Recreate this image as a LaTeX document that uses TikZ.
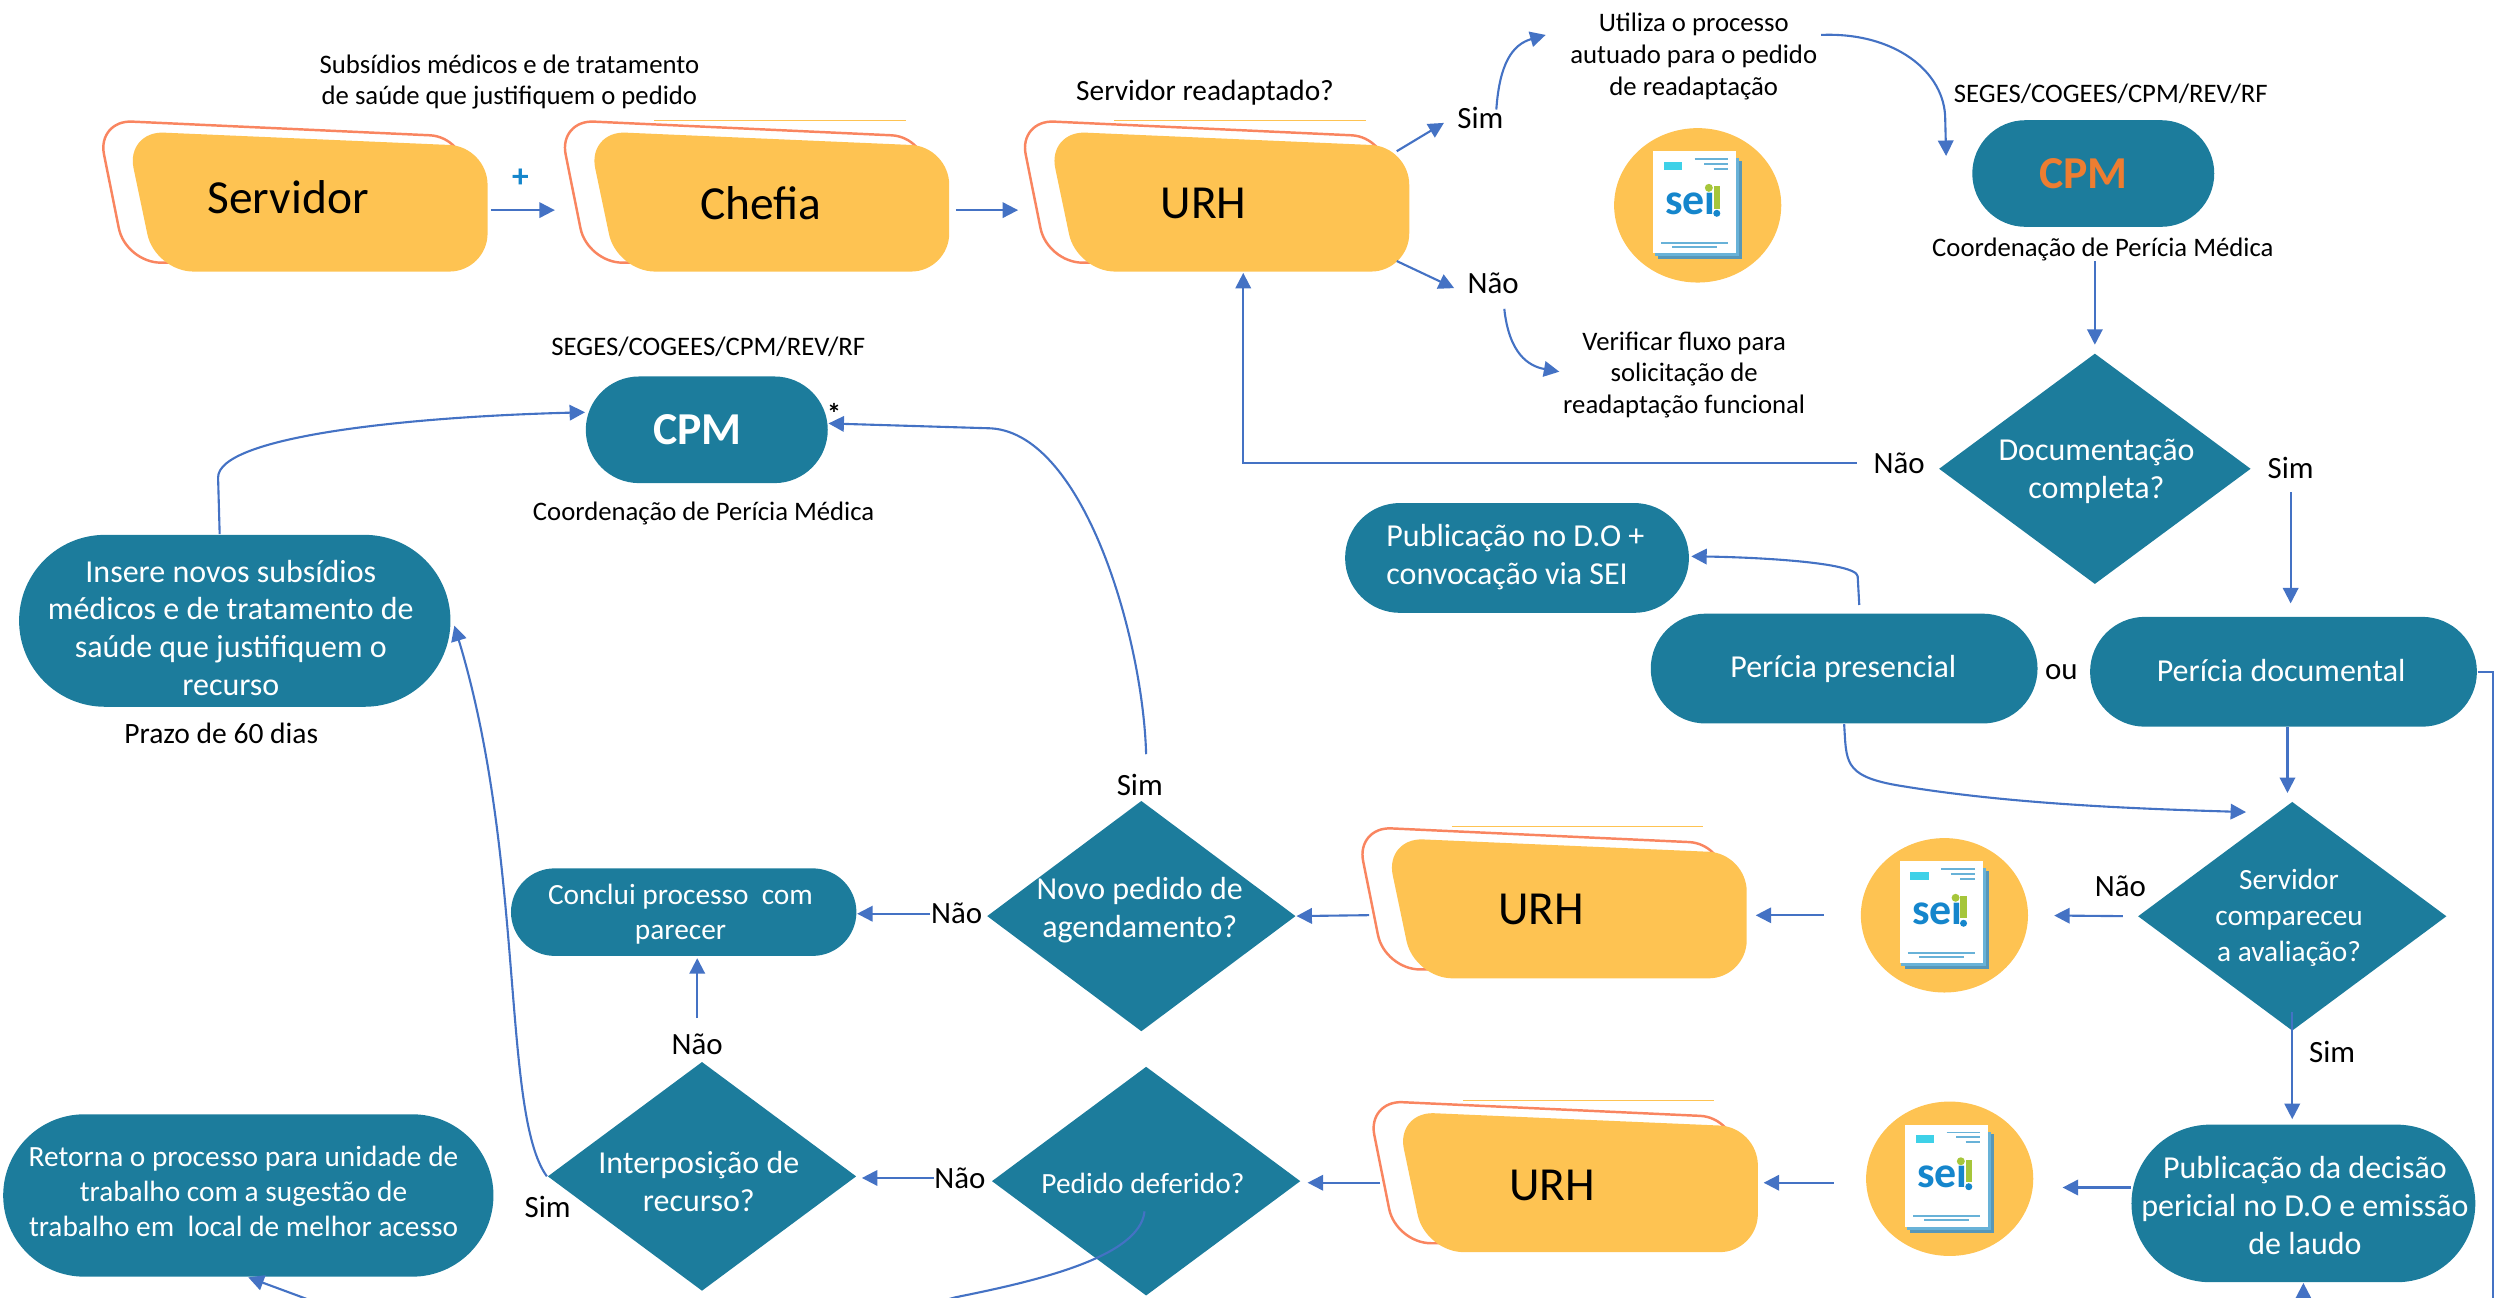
\documentclass[tikz,border=0pt]{standalone}
\usepackage{fontspec}
\setmainfont{Carlito}
\usetikzlibrary{arrows.meta,shapes.geometric,shapes.misc}
\definecolor{tealbox}{HTML}{1C7C9C}
\definecolor{cardyellow}{HTML}{FEC352}
\definecolor{cardorange}{HTML}{F98560}
\definecolor{flowblue}{HTML}{4472C4}
\definecolor{seiblue}{HTML}{1586CC}
\definecolor{seigreen}{HTML}{A6C63A}
\definecolor{seipaper}{HTML}{68B2D8}
\definecolor{cpmorange}{HTML}{ED7D31}
\def\un{0.159184mm}
\tikzset{
  flow/.style={draw=flowblue,line width=0.6pt,-{Triangle[length=4.4pt,width=4.4pt]}},
  tealstadium/.style={rounded rectangle,fill=tealbox,inner sep=0pt},
  tealdiamond/.style={diamond,aspect=1.34,fill=tealbox,inner sep=0pt},
  tealtext/.style={text=white,inner sep=0pt,align=center,font=\fontsize{9.1}{10.8}\selectfont},
  tealsmall/.style={text=white,inner sep=0pt,align=center,font=\fontsize{8.35}{9.9}\selectfont},
  note/.style={inner sep=0pt,align=center,font=\fontsize{7.6}{9}\selectfont},
  answer/.style={inner sep=0pt,font=\fontsize{8.8}{10}\selectfont},
  cardspot/.style={inner sep=0pt,minimum width=243*\un,minimum height=78*\un},
  cardtext/.style={inner sep=0pt,font=\fontsize{13.5}{15}\selectfont},
  cardshape/.pic={
    \draw[cardorange,line width=0.7pt,fill=white,rounded corners=22*\un] (61,75.4) -- (292,86) -- (292,165) -- (79,165) -- cycle;
    \fill[cardyellow,rounded corners=24*\un] (79,82.3) -- (306.3,92.1) -- (306.3,170.6) -- (97.5,170.6) -- cycle;
  },
  seiicon/.pic={
    \node[ellipse,fill=cardyellow,inner sep=0pt,minimum width=105*\un,minimum height=97*\un] (-disc) at (0,0) {};
    \fill[seipaper!85!black] (-25,-28) rectangle (28,34);
    \fill[seipaper] (-27,-29.5) rectangle (26,32);
    \fill[white] (-28,-34) rectangle (24,30);
    \fill[seipaper!60!cyan] (-21.4,-27.5) rectangle (-10,-22.2);
    \draw[seipaper,line width=0.5pt] (-2,-29) -- (19,-29) (4,-26) -- (19,-26) (10,-23) -- (19,-23) (-23,23.5) -- (19,23.5) (-16,26) -- (12,26);
    \node[inner sep=0pt,text=seiblue,font=\fontsize{12.5}{12}\bfseries\selectfont] (-word) at (-4.5,-1) {seı};
    \fill[seigreen] (7,-11) circle (2.5);
    \fill[seigreen] (10,-12) rectangle (14,2);
    \fill[seiblue] (12,5) circle (2.2);
  }
}
\begin{document}
\begin{tikzpicture}[x=\un,y=-\un]
\useasboundingbox (0,0) rectangle (1568,815.375);
\clip (0,0) rectangle (1568,815.375);
\foreach \dx/\dy in {0/0,290/0,579/0,791/444,798/616} \pic at (\dx,\dy) {cardshape};
\foreach \dx/\dy in {290/0,579/0,791/444,798/616} \draw[cardyellow,line width=0.3pt] (121+\dx,75.5+\dy) -- (279+\dx,75.5+\dy);
\node[cardspot] (servidor) at (184.5,132) {};
\node[cardspot] (chefia) at (474.5,132) {};
\node[cardspot] (urha) at (763.5,132) {};
\node[cardspot] (urhb) at (975,575) {};
\node[cardspot] (urhc) at (982,743) {};
\node[cardtext] (servidortext) at (181,124) {Servidor};
\node[cardtext] (chefiatext) at (478,127.5) {Chefia};
\node[cardtext] (urhatext) at (756,127.5) {URH};
\node[cardtext] (urhbtext) at (968,571.5) {URH};
\node[cardtext] (urhctext) at (975,744.5) {URH};
\pic (seia) at (1066.5,129) {seiicon};
\pic (seib) at (1221.5,575) {seiicon};
\pic (seic) at (1224.8,740.5) {seiicon};
\node[tealstadium,minimum width=152*\un,minimum height=67*\un] (cpma) at (1315,109) {};
\node[inner sep=0pt,text=cpmorange,font=\fontsize{13}{15}\bfseries\selectfont] (cpmatext) at (1309,109) {CPM};
\node[tealstadium,minimum width=152*\un,minimum height=67*\un] (cpmb) at (444,270) {};
\node[inner sep=0pt,text=white,font=\fontsize{13}{15}\bfseries\selectfont] (cpmbtext) at (438,270) {CPM};
\node[tealstadium,minimum width=216*\un,minimum height=69*\un] (pubd) at (953,350.5) {};
\node[tealtext,align=left] (pubdtext) at (952,350) {Publicação no D.O +\\convocação via SEI};
\node[tealstadium,minimum width=243*\un,minimum height=69*\un] (perp) at (1158.5,420) {};
\node[tealtext] (perptext) at (1158,420) {Perícia presencial};
\node[tealstadium,minimum width=243*\un,minimum height=69*\un] (perd) at (1434.5,422) {};
\node[tealtext] (perdtext) at (1433,421.5) {Perícia documental};
\node[tealstadium,minimum width=217*\un,minimum height=55*\un] (conclui) at (429.5,573) {};
\node[tealsmall] (concluitext) at (427.5,574.5) {Conclui processo\ \ com\\parecer};
\node[tealstadium,minimum width=271*\un,minimum height=108*\un] (insere) at (147.5,390) {};
\node[tealtext] (inseretext) at (145,394.5) {Insere novos subsídios\\médicos e de tratamento de\\saúde que justifiquem o\\recurso};
\node[tealstadium,minimum width=308*\un,minimum height=102*\un] (retorna) at (156,751) {};
\node[tealsmall] (retornatext) at (153,748.5) {Retorna o processo para unidade de\\trabalho com a sugestão de\\trabalho em\ \ local de melhor acesso};
\node[tealstadium,minimum width=216*\un,minimum height=99*\un] (pubdec) at (1447,756) {};
\node[tealtext] (pubdectext) at (1448,757.5) {Publicação da decisão\\pericial no D.O e emissão\\de laudo};
\node[tealdiamond,minimum width=196*\un,minimum height=145*\un] (docdec) at (1316,294.5) {};
\node[tealtext] (docdectext) at (1317,296) {Documentação\\completa?};
\node[tealdiamond,minimum width=194*\un,minimum height=144*\un] (servcomp) at (1440,575.6) {};
\node[tealsmall,font=\fontsize{8.35}{10.2}\selectfont] (servcomptext) at (1438,576.5) {Servidor\\compareceu\\a avaliação?};
\node[tealdiamond,minimum width=194*\un,minimum height=145*\un] (novoped) at (717,575.5) {};
\node[tealtext] (novopedtext) at (716,572) {Novo pedido de\\agendamento?};
\node[tealdiamond,minimum width=194*\un,minimum height=144*\un] (interp) at (441,739) {};
\node[tealtext] (interptext) at (439,742.5) {Interposição de\\recurso?};
\node[tealdiamond,minimum width=194*\un,minimum height=144*\un] (pedido) at (720,742) {};
\node[tealsmall] (pedidotext) at (718,743.5) {Pedido deferido?};
\node[note] (subsidios) at (320,51.5) {Subsídios médicos e de tratamento\\de saúde que justifiquem o pedido};
\node[note,font=\fontsize{8.35}{9}\selectfont] (readapt) at (757,58) {Servidor readaptado?};
\node[note] (utiliza) at (1064,35.5) {Utiliza o processo\\autuado para o pedido\\de readaptação};
\node[note] (verif) at (1058,235.5) {Verificar fluxo para\\solicitação de\\readaptação funcional};
\node[note] (segesa) at (1326,59) {SEGES/COGEES/CPM/REV/RF};
\node[note] (segesb) at (445,218) {SEGES/COGEES/CPM/REV/RF};
\node[note] (coorda) at (1321,156.5) {Coordenação de Perícia Médica};
\node[note] (coordb) at (442,322.5) {Coordenação de Perícia Médica};
\node[note,font=\fontsize{8.4}{9}\selectfont] (prazo) at (139,460.5) {Prazo de 60 dias};
\node[inner sep=0pt,text=seiblue,font=\fontsize{9.5}{10}\bfseries\selectfont] (plus) at (327,112) {+};
\node[inner sep=0pt,font=\fontsize{8}{9}\bfseries\selectfont] (star) at (524,260) {*};
\foreach \nm/\px/\py/\tx in {sima/930/74/Sim,naoa/938/178/Não,naob/1193/291/Não,simb/1439/294/Sim,ou/1295/422/ou,naoc/1332/557/Não,simc/1465/661/Sim,simd/716/493/Sim,naod/601/574/Não,naoe/603/740/Não,naof/438/656/Não,sime/344/758/Sim}
  \node[answer] (\nm) at (\px,\py) {\tx};
\draw[flow,shorten <=2*\un,shorten >=4*\un] (servidor.east) -- (chefia.west);
\draw[flow,shorten <=4*\un,shorten >=2*\un] (chefia.east) -- (urha.west);
\draw[flow] ([shift={(-8,-37)}]urha.east) -- ([shift={(-8,-4)}]sima.south west);
\draw[flow] ([shift={(-8,32)}]urha.east) -- ([shift={(-8,3)}]naoa.west);
\draw[flow] ([shift={(10,2)}]sima.north) .. controls (942,40) and (950,28) .. ([shift={(-15,14)}]utiliza.north west);
\draw[flow] ([shift={(7,9)}]naoa.south) .. controls (948,222) and (960,230) .. ([shift={(-2,-2)}]verif.west);
\draw[flow] ([shift={(2,14)}]utiliza.north east) .. controls (1190,20) and (1222,45) .. (1222,75) -- ([shift={(-16,-11)}]cpma.west);
\draw[flow,shorten >=5*\un] (docdec.north |- coorda.south) -- (docdec.north);
\draw[flow] ([xshift=-10*\un]naob.west) -| ([xshift=17.5*\un]urha.south);
\draw[flow,shorten <=8*\un,shorten >=8*\un] (simb.south) -- (simb.south |- perd.north);
\draw[flow,shorten >=5*\un] ([xshift=-3*\un]servcomp.north |- perd.south) -- ([xshift=-3*\un]servcomp.north);
\draw[flow] ([shift={(9.5,-5)}]perp.north) -- (1167,362) .. controls (1166,353) and (1100,350) .. ([shift={(1,-1)}]pubd.east);
\draw[flow] (perp.south) .. controls (1160,478) and (1158,487) .. (1190,493) .. controls (1260,505) and (1340,508) .. ([shift={(-29,7)}]servcomp.north);
\coordinate (outa) at (1566,830);
\draw[flow] (perd.east) -| (outa) -| (pubdec.south);
\draw[flow,shorten <=9*\un,shorten >=16*\un] (servcomp.west) -- (seib-disc.east);
\draw[flow,shorten <=-12*\un,shorten >=3*\un] (servcomp.south) -- (servcomp.south |- pubdec.north);
\draw[flow,shorten <=23*\un,shorten >=6*\un] (seib-disc.west) -- (urhb.east);
\draw[flow,shorten <=-7*\un] (urhb.west) -- (novoped.east);
\draw[flow] (naod.west) -- (naod.west -| conclui.east);
\draw[flow,shorten >=3*\un] (naoe.west) -- (naoe.west -| interp.east);
\draw[flow,shorten <=2*\un,shorten >=1*\un] (naof.south |- interp.north) ++(0,-25) -- (naof.south |- conclui.south);
\draw[flow,shorten <=20*\un,shorten >=4*\un] (seic-disc.west |- urhc.east) -- (urhc.east);
\draw[flow,shorten <=-7*\un,shorten >=4*\un] (urhc.west) -- (pedido.east |- urhc.west);
\draw[flow,shorten >=18*\un] ([yshift=10*\un]pubdec.west) -- ([yshift=10*\un]pubdec.west -| seic-disc.east);
\draw[flow] ([shift={(4,-12)}]simd.north) .. controls (718,400) and (680,269) .. (620,269) -- ([shift={(0,-4)}]cpmb.east);
\draw[flow] ([shift={(-9.5,0)}]insere.north) -- (137,300) .. controls (137,275) and (250,262) .. ([yshift=11*\un]cpmb.west);
\draw[flow] (interp.west) .. controls (315,700) and (330,540) .. ([shift={(2,3)}]insere.east);
\draw[flow] ([shift={(-1,19)}]pedido.center) .. controls (716,790) and (650,805) .. (600,815) .. controls (480,850) and (280,850) .. (190,815) -- (retorna.south);
\end{tikzpicture}
\end{document}
